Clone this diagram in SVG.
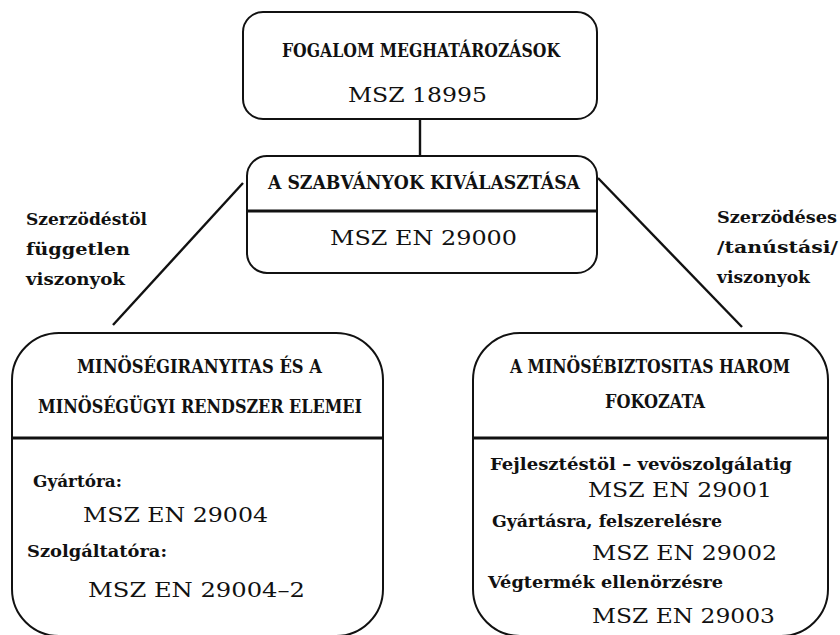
<svg xmlns="http://www.w3.org/2000/svg" width="840" height="635" viewBox="0 0 840 635">
<style>
.box{fill:#fff;stroke:#111;stroke-width:2}
.div{stroke:#111;stroke-width:3.2}
.con{stroke:#111;stroke-width:2.4;fill:none}
text{font-family:"DejaVu Serif","Liberation Serif",serif;fill:#111}
.h{font-size:18px;font-weight:bold}
.m{font-size:21px}
.l{font-size:17px;font-weight:bold}
</style>
<rect width="840" height="635" fill="#fff"/>
<g id="connectors">
<line class="con" x1="243" y1="183" x2="113" y2="325"/>
<line class="con" x1="598" y1="178" x2="742" y2="327"/>
<line class="con" x1="420" y1="119" x2="420" y2="156"/>
</g>
<g id="node-fogalom">
<rect class="box" x="243" y="12" width="354" height="107" rx="20" ry="20"/>
<text class="h" x="282" y="57" textLength="278" lengthAdjust="spacingAndGlyphs">FOGALOM MEGHATÁROZÁSOK</text>
<text class="m" x="348" y="102" font-size="22" textLength="139" lengthAdjust="spacingAndGlyphs">MSZ 18995</text>
</g>
<g id="node-szabvanyok">
<rect class="box" x="247" y="156" width="350" height="117" rx="20" ry="20"/>
<line class="div" x1="247" y1="211" x2="597" y2="211"/>
<text class="h" x="268" y="189" textLength="312" lengthAdjust="spacingAndGlyphs">A SZABVÁNYOK KIVÁLASZTÁSA</text>
<text class="m" x="330" y="245" textLength="187" lengthAdjust="spacingAndGlyphs">MSZ EN 29000</text>
</g>
<g id="label-left">
<text class="l" x="26" y="225" textLength="121" lengthAdjust="spacingAndGlyphs">Szerzödéstöl</text>
<text class="l" x="26" y="255" textLength="104" lengthAdjust="spacingAndGlyphs">független</text>
<text class="l" x="26" y="285" textLength="99" lengthAdjust="spacingAndGlyphs">viszonyok</text>
</g>
<g id="label-right">
<text class="l" x="717" y="223" textLength="120" lengthAdjust="spacingAndGlyphs">Szerzödéses</text>
<text class="l" x="717" y="253" textLength="121" lengthAdjust="spacingAndGlyphs">/tanústási/</text>
<text class="l" x="717" y="283" textLength="93" lengthAdjust="spacingAndGlyphs">viszonyok</text>
</g>
<g id="node-minosegiranyitas">
<rect class="box" x="12" y="333" width="371" height="303" rx="47" ry="47"/>
<line class="div" x1="12" y1="438" x2="383" y2="438"/>
<text class="h" x="77" y="373" textLength="245" lengthAdjust="spacingAndGlyphs">MINÖSÉGIRANYITAS ÉS A</text>
<text class="h" x="38" y="413" textLength="324" lengthAdjust="spacingAndGlyphs">MINÖSÉGÜGYI RENDSZER ELEMEI</text>
<text class="l" x="33" y="487" textLength="89" lengthAdjust="spacingAndGlyphs">Gyártóra:</text>
<text class="m" x="83" y="522" textLength="185" lengthAdjust="spacingAndGlyphs">MSZ EN 29004</text>
<text class="l" x="27" y="557" textLength="140" lengthAdjust="spacingAndGlyphs">Szolgáltatóra:</text>
<text class="m" x="88" y="597" textLength="217" lengthAdjust="spacingAndGlyphs">MSZ EN 29004–2</text>
</g>
<g id="node-minosegbiztositas">
<rect class="box" x="473" y="333" width="355" height="303" rx="47" ry="47"/>
<line class="div" x1="473" y1="438" x2="828" y2="438"/>
<text class="h" x="510" y="373" textLength="280" lengthAdjust="spacingAndGlyphs">A MINÖSÉBIZTOSITAS HAROM</text>
<text class="h" x="605" y="408" textLength="100" lengthAdjust="spacingAndGlyphs">FOKOZATA</text>
<text class="l" x="490" y="470" textLength="302" lengthAdjust="spacingAndGlyphs">Fejlesztéstöl – vevöszolgálatig</text>
<text class="m" x="588" y="497" textLength="184" lengthAdjust="spacingAndGlyphs">MSZ EN 29001</text>
<text class="l" x="492" y="527" textLength="230" lengthAdjust="spacingAndGlyphs">Gyártásra, felszerelésre</text>
<text class="m" x="592" y="560" textLength="185" lengthAdjust="spacingAndGlyphs">MSZ EN 29002</text>
<text class="l" x="488" y="588" textLength="235" lengthAdjust="spacingAndGlyphs">Végtermék ellenörzésre</text>
<text class="m" x="592" y="623" textLength="183" lengthAdjust="spacingAndGlyphs">MSZ EN 29003</text>
</g>
</svg>
